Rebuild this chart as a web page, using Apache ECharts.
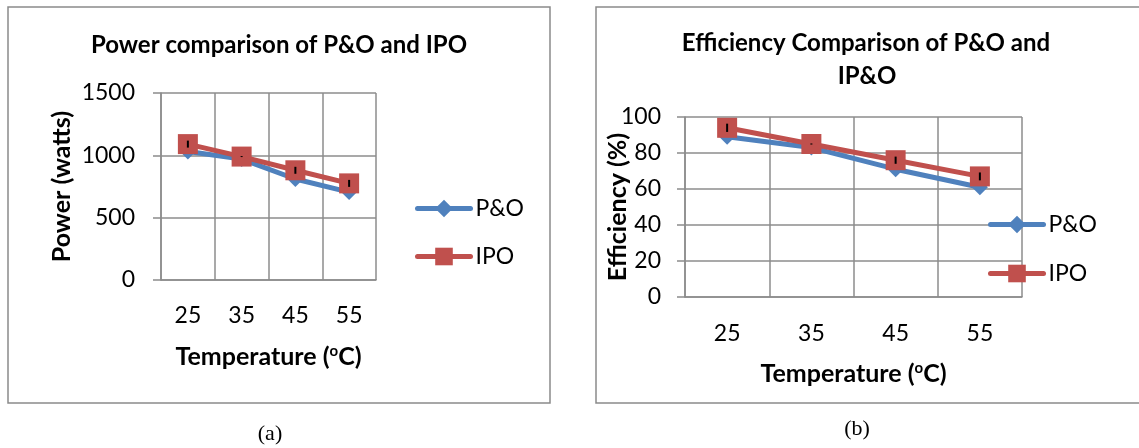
<!DOCTYPE html>
<html>
<head>
<meta charset="utf-8">
<script src="https://cdn.jsdelivr.net/npm/echarts@6/dist/echarts.min.js"></script>
<style>
  html, body { margin: 0; padding: 0; background: #fff; }
  #chart { width: 1139px; height: 448px; }
</style>
</head>
<body>
<div id="chart"></div>
<script>
// Temperature categories shared by both panels
const categories = ['25', '35', '45', '55'];

// Panel (a): output power in watts
const powerPO = [1030, 970, 810, 705];
const powerIPO = [1090, 990, 880, 775];
const powerIPOErr = [28, 4, 28, 28];

// Panel (b): efficiency in percent
const effPO = [89, 83, 71, 61];
const effIPO = [94, 85, 76, 67];
const effIPOErr = [2.3, 0.3, 2, 2.2];

const seriesNames = ['P&O', 'IPO'];

const FONT = 'Lato, "Open Sans", sans-serif';
const BLUE = '#4F81BD';
const RED = '#C0504D';
const GRID_COLOR = '#8c8c8c';

const chart = echarts.init(document.getElementById('chart'), null, { renderer: 'canvas' });

function catAxis(gridIndex, labelMargin, nameGap) {
  return {
    type: 'category',
    gridIndex: gridIndex,
    data: categories,
    boundaryGap: true,
    axisLine: { show: true, lineStyle: { color: GRID_COLOR, width: 1.5 } },
    axisTick: { show: false },
    splitLine: { show: true, lineStyle: { color: GRID_COLOR, width: 1.5 } },
    axisLabel: { color: '#000', fontFamily: FONT, fontSize: 23, margin: labelMargin },
    name: 'Temperature ({s|o}C)',
    nameLocation: 'middle',
    nameGap: nameGap,
    nameMoveOverlap: false,
    nameTextStyle: {
      color: '#000', fontFamily: FONT, fontSize: 25, fontWeight: 'bold',
      rich: { s: { fontFamily: FONT, fontSize: 15, fontWeight: 'bold', verticalAlign: 'top', color: '#000' } }
    }
  };
}

function valAxis(gridIndex, max, interval, name, labelMargin, nameGap) {
  return {
    type: 'value',
    gridIndex: gridIndex,
    min: 0,
    max: max,
    interval: interval,
    axisLine: { show: true, lineStyle: { color: GRID_COLOR, width: 1.5 } },
    axisTick: { show: true, inside: false, length: 8, lineStyle: { color: GRID_COLOR, width: 1.5 } },
    splitLine: { show: true, lineStyle: { color: GRID_COLOR, width: 1.5 } },
    axisLabel: {
      color: '#000', fontFamily: FONT, fontSize: 23, margin: labelMargin,
      formatter: (v) => String(v)
    },
    name: name,
    nameLocation: 'middle',
    nameGap: nameGap,
    nameMoveOverlap: false,
    nameTextStyle: { color: '#000', fontFamily: FONT, fontSize: 25, fontWeight: 'bold' }
  };
}

function lineSeries(name, data, idx, color, symbol, size) {
  return {
    name: name,
    type: 'line',
    xAxisIndex: idx,
    yAxisIndex: idx,
    data: data,
    symbol: symbol,
    symbolSize: size,
    showSymbol: true,
    lineStyle: { color: color, width: 5 },
    itemStyle: { color: color, borderWidth: 0 },
    animation: false,
    z: symbol === 'rect' ? 3 : 2
  };
}

// Small black error bars drawn on the IPO markers
function errorSeries(values, errs, idx) {
  return {
    type: 'custom',
    xAxisIndex: idx,
    yAxisIndex: idx,
    data: values.map((v, i) => [i, v, errs[i]]),
    renderItem: function (params, api) {
      const x = api.value(0), v = api.value(1), e = api.value(2);
      const top = api.coord([x, v + e]);
      const bot = api.coord([x, v - e]);
      return {
        type: 'rect',
        shape: { x: top[0] - 1, y: top[1], width: 2, height: Math.max(1, bot[1] - top[1]) },
        style: { fill: '#000' }
      };
    },
    silent: true,
    animation: false,
    z: 5
  };
}

function legend(left, top, gap) {
  return {
    orient: 'vertical',
    left: left,
    top: top,
    padding: 0,
    itemWidth: 53,
    itemHeight: 22,
    itemGap: gap,
    data: seriesNames,
    lineStyle: { width: 5, cap: 'round' },
    textStyle: { color: '#000', fontFamily: FONT, fontSize: 23 },
    selectedMode: false
  };
}

const option = {
  backgroundColor: '#fff',
  animation: false,
  grid: [
    { left: 161, top: 93, width: 215, height: 187 },
    { left: 685, top: 117, width: 337, height: 180 }
  ],
  xAxis: [catAxis(0, 24, 64), catAxis(1, 25, 64)],
  yAxis: [
    valAxis(0, 1500, 500, 'Power (watts)', 26, 87),
    valAxis(1, 100, 20, 'Efficiency (%)', 24, 55)
  ],
  legend: [legend(415, 197, 25), legend(988, 213, 26)],
  series: [
    lineSeries('P&O', powerPO, 0, BLUE, 'diamond', 16),
    lineSeries('IPO', powerIPO, 0, RED, 'rect', 20),
    errorSeries(powerIPO, powerIPOErr, 0),
    lineSeries('P&O', effPO, 1, BLUE, 'diamond', 16),
    lineSeries('IPO', effIPO, 1, RED, 'rect', 20),
    errorSeries(effIPO, effIPOErr, 1)
  ],
  graphic: [
    { type: 'rect', shape: { x: 8, y: 7, width: 542, height: 396 },
      style: { fill: null, stroke: '#8a8a8a', lineWidth: 1.5 }, silent: true, z: -1 },
    { type: 'rect', shape: { x: 596, y: 7, width: 600, height: 396 },
      style: { fill: null, stroke: '#8a8a8a', lineWidth: 1.5 }, silent: true, z: -1 },
    { type: 'text', x: 279, y: 45,
      style: { text: 'Power comparison of P&O and IPO', font: 'bold 24px ' + FONT,
               fill: '#000', textAlign: 'center', textVerticalAlign: 'middle' } },
    { type: 'text', x: 866, y: 43,
      style: { text: 'Efficiency Comparison of P&O and', font: 'bold 24px ' + FONT,
               fill: '#000', textAlign: 'center', textVerticalAlign: 'middle' } },
    { type: 'text', x: 867, y: 76,
      style: { text: 'IP&O', font: 'bold 24px ' + FONT,
               fill: '#000', textAlign: 'center', textVerticalAlign: 'middle' } },
    { type: 'text', x: 270, y: 434,
      style: { text: '(a)', font: '22px "Liberation Serif", "DejaVu Serif", serif',
               fill: '#000', textAlign: 'center', textVerticalAlign: 'middle' } },
    { type: 'text', x: 857, y: 429,
      style: { text: '(b)', font: '22px "Liberation Serif", "DejaVu Serif", serif',
               fill: '#000', textAlign: 'center', textVerticalAlign: 'middle' } }
  ]
};

chart.setOption(option);
</script>
</body>
</html>
